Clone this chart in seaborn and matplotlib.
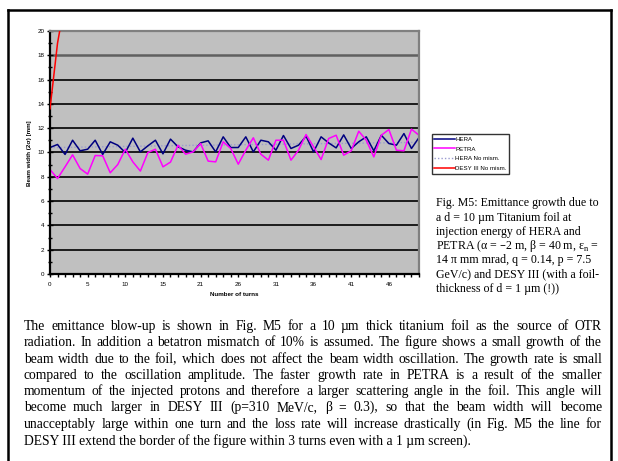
import matplotlib
matplotlib.use('Agg')
import matplotlib.pyplot as plt
import pandas as pd
import seaborn as sns
from matplotlib.lines import Line2D
from matplotlib.ticker import MultipleLocator

# Datos (ancho del haz en mm por vuelta)
turns = list(range(50))
hera = [10.41, 10.66, 9.84, 11.01, 10.14, 10.27, 11.01, 9.84, 10.88, 10.60,
        10.00, 11.18, 10.05, 10.55, 11.01, 9.89, 11.10, 10.47, 10.19, 10.05,
        10.79, 10.96, 10.05, 11.29, 10.41, 10.41, 11.29, 10.05, 11.01, 10.88,
        10.19, 11.40, 10.33, 10.60, 11.34, 10.05, 11.29, 10.79, 10.38, 11.45,
        10.33, 10.88, 11.29, 10.14, 11.42, 10.74, 10.60, 11.56, 10.33, 11.23]
petra = [8.60, 7.86, 8.82, 9.81, 8.68, 8.22, 9.75, 9.73, 8.33, 9.01,
         10.27, 9.23, 8.47, 10.00, 10.27, 8.82, 9.21, 10.60, 9.86, 10.05,
         10.74, 9.29, 9.23, 10.88, 10.33, 9.04, 10.19, 11.21, 9.86, 9.37,
         11.01, 11.01, 9.37, 10.19, 11.48, 10.47, 9.42, 11.15, 11.42, 9.78,
         10.14, 11.75, 11.01, 9.64, 11.42, 11.89, 10.19, 10.14, 11.92, 11.42]
hera_no_mism = [10.40, 10.41, 10.42, 10.43, 10.44, 10.45, 10.46, 10.47, 10.48, 10.49,
                10.50, 10.51, 10.52, 10.53, 10.54, 10.55, 10.56, 10.57, 10.58, 10.59,
                10.60, 10.60, 10.61, 10.62, 10.63, 10.64, 10.65, 10.66, 10.66, 10.67,
                10.68, 10.69, 10.70, 10.71, 10.71, 10.72, 10.73, 10.74, 10.75, 10.75,
                10.76, 10.77, 10.78, 10.79, 10.79, 10.80, 10.81, 10.82, 10.83, 10.83]
desy_turns = [0, 1, 2, 3]
desy = [13.6, 19.0, 22.5, 25.5]

xtick_pos = [0, 5, 10, 15, 20, 25, 30, 35, 40, 45]
xtick_labels = ['0', '5', '10', '15', '21', '26', '31', '36', '41', '46']

legend_labels = ['HERA', 'PETRA', 'HERA No mism.', 'DESY III No mism.']

caption_lines = [
    'Fig. M5: Emittance growth due to',
    'a d = 10 µm Titanium foil at',
    'injection energy of HERA and',
    'PETRA (α = –2 m, β = 40 m, ε$_\\mathregular{n}$ =',
    '14 π mm mrad, q = 0.14, p = 7.5',
    'GeV/c) and DESY III (with a foil-',
    'thickness of d = 1 µm (!))',
]
body_lines = [
    'The emittance blow-up is shown in Fig. M5 for a 10 µm thick titanium foil as the source of OTR',
    'radiation. In addition a betatron mismatch of 10% is assumed. The figure shows a small growth of the',
    'beam width due to the foil, which does not affect the beam width oscillation. The growth rate is small',
    'compared to the oscillation amplitude. The faster growth rate in PETRA is a result of the smaller',
    'momentum of the injected protons and therefore a larger scattering angle in the foil. This angle will',
    'become much larger in DESY III (p=310 MeV/c, β = 0.3), so that the beam width will become',
    'unacceptably large within one turn and the loss rate will increase drastically (in Fig. M5 the line for',
    'DESY III extend the border of the figure within 3 turns even with a 1 µm screen).',
]

plt.rcParams['font.family'] = ['Liberation Sans', 'DejaVu Sans']

W, H = 618, 461
fig = plt.figure(figsize=(W / 100, H / 100), dpi=100)
fig.patch.set_facecolor('white')


def fx(px):
    return px / W


def fy(py):
    return 1 - py / H


# Area del grafico
ax = fig.add_axes([fx(50), fy(274), fx(419) - fx(50), fy(31) - fy(274)])
ax.set_facecolor('#c0c0c0')

df = pd.DataFrame({'turn': turns, 'HERA': hera, 'PETRA': petra, 'HERA No mism.': hera_no_mism})
df_desy = pd.DataFrame({'turn': desy_turns, 'DESY III No mism.': desy})

sns.lineplot(data=df, x='turn', y='HERA No mism.', ax=ax, color='#9a9ad0', lw=1.0,
             linestyle=(0, (1, 1.5)), label='HERA No mism.')
sns.lineplot(data=df, x='turn', y='HERA', ax=ax, color='#000080', lw=1.1, label='HERA')
sns.lineplot(data=df, x='turn', y='PETRA', ax=ax, color='#ff00ff', lw=1.1, label='PETRA')
sns.lineplot(data=df_desy, x='turn', y='DESY III No mism.', ax=ax, color='#ff0000', lw=1.1,
             label='DESY III No mism.', zorder=3)
handles, labels = ax.get_legend_handles_labels()
ax.get_legend().remove()

ax.set_xlim(0, 49)
ax.set_ylim(0, 20)
ax.set_xlabel('')
ax.set_ylabel('')

# Rejilla horizontal
ax.set_yticks(range(0, 21, 2))
ax.yaxis.set_minor_locator(MultipleLocator(1))
ax.yaxis.grid(True, color='black', lw=1.2)
ax.set_axisbelow(True)
ax.get_ygridlines()[9].set_color('#606060')
ax.get_ygridlines()[9].set_linewidth(1.8)

ax.set_xticks(xtick_pos, xtick_labels)
ax.xaxis.set_minor_locator(MultipleLocator(1))
ax.tick_params(axis='y', which='both', direction='inout', width=1.0, labelsize=4.5, pad=2)
ax.tick_params(axis='y', which='major', length=4)
ax.tick_params(axis='y', which='minor', length=3)
ax.tick_params(axis='x', which='both', direction='out', width=1.0, length=2.5, labelsize=4.5, pad=3)

for side in ['left', 'bottom']:
    ax.spines[side].set_color('black')
    ax.spines[side].set_linewidth(1.6)
for side in ['top', 'right']:
    ax.spines[side].set_color('#808080')
    ax.spines[side].set_linewidth(1.6)

fig.text(fx(30), fy(153), 'Beam width (2σ) [mm]', rotation=90, ha='center', va='center',
         fontsize=4.5, fontweight='bold')
fig.text(fx(234), fy(294), 'Number of turns', ha='center', va='center',
         fontsize=4.5, fontweight='bold')

# Leyenda
order = [labels.index(l) for l in legend_labels]
leg = fig.legend([handles[i] for i in order], legend_labels, loc='upper left',
                 bbox_to_anchor=(fx(432), fy(134)), fontsize=4.4, frameon=True,
                 fancybox=False, edgecolor='black', handlelength=3.3, handletextpad=0.1,
                 borderpad=0.4, labelspacing=0.75, borderaxespad=0)
leg.get_frame().set_linewidth(1.0)

renderer = fig.canvas.get_renderer()
serif = ['Liberation Serif', 'DejaVu Serif']


def text_width(s, size):
    t = fig.text(0, 0, s, fontsize=size, family=serif)
    w = t.get_window_extent(renderer).width
    t.remove()
    return w


# Pie de figura a la derecha
cap_size = 10 * 162 / text_width(caption_lines[0], 10)
cap_y = [202.3, 216.7, 231.0, 245.3, 259.3, 273.3, 288.3]
for line, y in zip(caption_lines, cap_y):
    fig.text(fx(436), fy(y + 4), line, fontsize=cap_size, family=serif, va='baseline')

# Texto justificado
body_size = 10 * 445 / text_width(body_lines[-1], 10)
body_y = [325.7, 341.7, 358.7, 374.7, 390.7, 407.3, 424.0, 441.0]
x0, x1 = 24, 602
for i, (line, y) in enumerate(zip(body_lines, body_y)):
    if i == len(body_lines) - 1:
        fig.text(fx(x0), fy(y + 4), line, fontsize=body_size, family=serif, va='baseline')
        continue
    words = line.split(' ')
    widths = [text_width(w, body_size) for w in words]
    gap = (x1 - x0 - sum(widths)) / (len(words) - 1)
    x = x0
    for w, wd in zip(words, widths):
        fig.text(fx(x), fy(y + 4), w, fontsize=body_size, family=serif, va='baseline')
        x += wd + gap

# Marco de la pagina
for xs, ys in [([8, 8], [10, 461]), ([8, 611], [10, 10]), ([611, 611], [10, 461])]:
    fig.add_artist(Line2D([fx(v) for v in xs], [fy(v) for v in ys], transform=fig.transFigure,
                          color='black', lw=1.8))

fig.savefig('out.png', dpi=100)
